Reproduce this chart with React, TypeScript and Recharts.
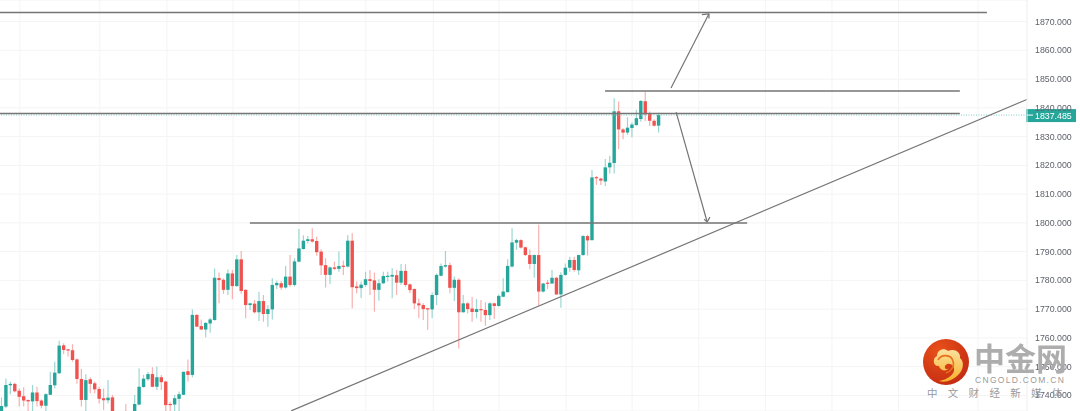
import React from "react";
import { ComposedChart, Bar, XAxis, YAxis, CartesianGrid, ReferenceLine } from "recharts";

const opens = [
  1733, 1736.1, 1743.5, 1744, 1741.6, 1739.7, 1738.4, 1737.9, 1741, 1738.2,
  1736.4, 1740.2, 1743.5, 1747.7, 1757.4, 1756, 1755.7, 1752.5, 1745.7, 1738.4,
  1745.6, 1744.2, 1742.2, 1739, 1738.3, 1739.3, 1733, 1731, 1733, 1731,
  1732, 1736.8, 1742.9, 1745.6, 1747.4, 1743, 1746.3, 1744.8, 1737, 1736.8,
  1738.8, 1740.2, 1748.4, 1747.1, 1768, 1764.1, 1762.9, 1765, 1766.2, 1780.8,
  1780.2, 1776.7, 1782.4, 1778, 1787.3, 1776.7, 1771.4, 1771.9, 1768.9, 1772.8,
  1768.3, 1769.9, 1778.3, 1779, 1777.5, 1781.3, 1778.4, 1786.5, 1790.9, 1793.7,
  1794.3, 1793.7, 1790, 1785.3, 1781.9, 1784.5, 1784, 1785.1, 1784.8, 1793.8,
  1777.9, 1777.3, 1778.4, 1780.4, 1780, 1776.7, 1779, 1781.3, 1781.3, 1781.8,
  1779.2, 1783.3, 1778.6, 1777, 1772, 1771.4, 1770.3, 1769.9, 1774.9, 1781.6,
  1784.8, 1785.3, 1777.4, 1780.2, 1768.9, 1772, 1770.2, 1769, 1770, 1769.7,
  1767.9, 1772, 1771.1, 1774.3, 1775.9, 1784.8, 1793.1, 1794, 1791.5, 1788.8,
  1785.7, 1788.8, 1776.1, 1779.2, 1778.9, 1780.9, 1775.1, 1781.9, 1784.4, 1787.1,
  1783.5, 1788.8, 1795.4, 1794, 1815.9, 1815.4, 1814.4, 1819.3, 1820.8, 1838.8,
  1832.5, 1831.4, 1833, 1834, 1836.1, 1842.3, 1837.9, 1835.5, 1833.8,
];
const closes = [
  1736.3, 1743.6, 1744, 1741.4, 1739.5, 1738.2, 1737.9, 1741, 1738, 1736.4,
  1740.4, 1743.6, 1747.9, 1757.3, 1755.8, 1755.7, 1752.3, 1745.7, 1738.4, 1745.3,
  1744, 1742.1, 1738.8, 1738.3, 1739.2, 1733, 1731, 1733, 1731, 1733.5,
  1737, 1743, 1745.8, 1747.4, 1743, 1746.3, 1744.6, 1736.6, 1736.6, 1739,
  1740.4, 1748.2, 1747.1, 1768, 1763.9, 1762.9, 1765.2, 1766.4, 1780.9, 1780.1,
  1776.7, 1782.4, 1778, 1787.3, 1776.3, 1771.4, 1772, 1768.9, 1772.8, 1768.3,
  1770, 1778.4, 1779.1, 1777.5, 1781.3, 1778.4, 1786.6, 1791.1, 1793.8, 1794.3,
  1793.5, 1789.8, 1785.2, 1781.9, 1784.5, 1784, 1785, 1784.7, 1793.8, 1777.6,
  1777.3, 1778.5, 1780.4, 1779.8, 1776.7, 1779, 1781.5, 1781.6, 1781.9, 1779.2,
  1783.3, 1778.4, 1776.6, 1772, 1771.3, 1770, 1769.9, 1774.9, 1781.9, 1785,
  1785.3, 1777.4, 1780.2, 1768.9, 1772, 1770, 1769, 1770, 1769.6, 1767.9,
  1772, 1771.1, 1774.6, 1776.1, 1785, 1793.2, 1794, 1791.4, 1788.8, 1785.7,
  1788.8, 1776.1, 1778.9, 1778.8, 1780.9, 1775.1, 1781.9, 1784.4, 1787.1, 1783.6,
  1788.8, 1795.4, 1793.9, 1815.8, 1815.5, 1814.7, 1819.3, 1820.9, 1838.8, 1832.5,
  1831.4, 1833.1, 1834.2, 1836.4, 1842.4, 1837.7, 1835.5, 1833.8, 1837.5,
];
const highs = [
  1739.3, 1745.9, 1744.8, 1744.4, 1742.4, 1742.8, 1738.6, 1743.6, 1743, 1738.6,
  1740.7, 1748.1, 1751.7, 1759, 1758.1, 1756.2, 1757.8, 1752.8, 1749.2, 1747.3,
  1746.3, 1744.8, 1743, 1742.4, 1745.3, 1740.1, 1733.5, 1734, 1737, 1734,
  1740.1, 1749.4, 1747.1, 1748.2, 1749.8, 1750, 1747.1, 1745.1, 1737.8, 1740.1,
  1741.3, 1748.2, 1752.5, 1769.9, 1768.2, 1766.4, 1765.4, 1767, 1784.1, 1782.7,
  1780.7, 1783.8, 1783.6, 1788.8, 1790.2, 1776.9, 1772.2, 1773.2, 1776, 1774.9,
  1771.4, 1780.7, 1779.9, 1779.8, 1785, 1788.8, 1787.7, 1797.9, 1795.7, 1795.4,
  1798.1, 1795.2, 1790.8, 1787.7, 1784.8, 1786.5, 1790, 1786.9, 1795.8, 1796.4,
  1779.6, 1779.6, 1783, 1783.6, 1782.7, 1780.4, 1783, 1783, 1784.2, 1783.6,
  1785.7, 1785.6, 1778.9, 1777.2, 1773.7, 1772, 1770.5, 1775.8, 1782.4, 1785.9,
  1790.2, 1786.1, 1781.3, 1780.7, 1774.9, 1772.4, 1774.3, 1773.5, 1773.2, 1772.4,
  1772.4, 1772.2, 1775.1, 1780.7, 1787.3, 1798.1, 1794.4, 1794.3, 1791.7, 1790.8,
  1789, 1799.3, 1779.2, 1780.1, 1783.6, 1781.2, 1782.8, 1785.9, 1788.2, 1788.2,
  1789, 1795.8, 1795.8, 1818.4, 1816.3, 1815.7, 1822.2, 1823.3, 1843.3, 1842.2,
  1832.9, 1836.7, 1834.9, 1839.3, 1842.7, 1845.6, 1838.7, 1836, 1838.3,
];
const lows = [
  1730, 1735.5, 1740.4, 1741, 1736.1, 1736.1, 1733, 1733, 1736.1, 1735.5,
  1733, 1740.1, 1742.4, 1747.4, 1754.4, 1753.5, 1751.7, 1744, 1736.1, 1733,
  1740.7, 1740.7, 1737.2, 1734.9, 1737.2, 1730, 1729, 1730, 1729, 1729.5,
  1731, 1736.6, 1742.7, 1745.1, 1742.8, 1741.9, 1741.9, 1733, 1733, 1733,
  1733, 1740.1, 1744.8, 1746.3, 1763.7, 1762.7, 1760.2, 1761.8, 1766, 1772,
  1775.3, 1774.9, 1773.4, 1777.8, 1775.3, 1766.8, 1769.7, 1768.5, 1765.9, 1765.6,
  1763.9, 1766.4, 1777, 1776.7, 1777.2, 1777.8, 1777.8, 1786.3, 1790.7, 1792.9,
  1793.1, 1788.6, 1781.9, 1777.5, 1778.7, 1783.6, 1783, 1781.9, 1784.5, 1770.3,
  1775.5, 1773.9, 1777.8, 1774.9, 1769.1, 1772.9, 1778.7, 1779.6, 1773.8, 1774.9,
  1778.4, 1777.8, 1775.5, 1770, 1766.8, 1766.2, 1762.7, 1766.8, 1771.4, 1781.3,
  1784.4, 1775.5, 1772.8, 1756.3, 1768.8, 1768.5, 1765.6, 1766.8, 1765.6, 1764.2,
  1766.2, 1766.6, 1770.8, 1774.1, 1775.8, 1784.5, 1790.6, 1791.1, 1788.5, 1783.9,
  1780.9, 1771.2, 1775.8, 1777, 1778.7, 1774.9, 1770.5, 1781.6, 1783, 1783,
  1781.9, 1788.6, 1788.6, 1793.8, 1813.2, 1813.2, 1812.8, 1817.2, 1817.2, 1825.6,
  1829.1, 1830.6, 1829.8, 1833.8, 1835.2, 1835.4, 1833.7, 1833.5, 1831.4,
];

const priceTicks = [1870, 1860, 1850, 1840, 1830, 1820, 1810, 1800, 1790, 1780, 1770, 1760, 1750, 1740];
const timeGridLines = [4.1, 22.1, 37.2, 52.1, 67, 82, 97.2, 112, 127.1, 142, 157, 172, 187, 202, 219.9];
const lastPrice = 1837.485;

// horizontal levels: [x1, price1, x2, price2]
const levelLines = [
  [-0.38, 1873.2, 221.9, 1873.2],
  [135.9, 1845.9, 215.8, 1845.9],
  [-0.38, 1838, 215.8, 1838],
  [55.9, 1799.95, 167.9, 1799.95],
];
// trend line and the two arrows
const slantLines = [
  [65.2, 1734.6, 230.9, 1842.9],
  [150.75, 1846.9, 159.3, 1872.7],
  [159.3, 1872.7, 157.7, 1872.4],
  [159.3, 1872.7, 159.3, 1871.1],
  [151.9, 1838.5, 158.9, 1800.3],
  [158.9, 1800.3, 158.2, 1801.3],
  [158.9, 1800.3, 159.5, 1802],
];

const candles = opens.map((o, i) => ({
  idx: i,
  open: o,
  close: closes[i],
  range: [lows[i], highs[i]],
}));

const UP = "#26a69a";
const DOWN = "#ef5350";

const Candle = (props: any) => {
  const { x, y, width, height, payload } = props;
  const [low, high] = payload.range;
  const k = height / (high - low);
  const color = payload.close >= payload.open ? UP : DOWN;
  const cx = x + width / 2;
  const top = y + (high - Math.max(payload.open, payload.close)) * k;
  const bodyH = Math.max(Math.abs(payload.close - payload.open) * k, 1.2);
  return (
    <g>
      <line x1={cx} x2={cx} y1={y} y2={y + height} stroke={color} strokeOpacity={0.45} strokeWidth={1.2} />
      <rect x={cx - 1.7} y={top} width={3.4} height={bodyH} fill={color} />
    </g>
  );
};

const PriceTag = (props: any) => {
  const { viewBox } = props;
  const right = viewBox.x + viewBox.width;
  return (
    <g>
      <rect x={right - 1} y={viewBox.y - 6} width={50} height={13} fill={UP} />
      <line x1={right} x2={right + 6} y1={viewBox.y} y2={viewBox.y} stroke="#fff" />
      <text x={right + 8} y={viewBox.y + 3.5} fontSize={8.8} fill="#fff" fontFamily="Liberation Sans">
        {lastPrice.toFixed(3)}
      </text>
    </g>
  );
};

const Watermark = () => (
  <svg width={1080} height={411} style={{ position: "absolute", left: 0, top: 0 }}>
    <defs>
      <radialGradient id="logoFill" cx="35%" cy="25%" r="85%">
        <stop offset="0%" stopColor="#e8501a" />
        <stop offset="100%" stopColor="#c22a12" />
      </radialGradient>
      <linearGradient id="swirlFill" x1="0" y1="0" x2="0" y2="1">
        <stop offset="0%" stopColor="#fbe2a0" />
        <stop offset="100%" stopColor="#f7b02a" />
      </linearGradient>
    </defs>
    <circle cx={946} cy={362} r={23} fill="url(#logoFill)" />
    <path
      d="M939 381 C950 379 957 372 953 366 C950 362 944 364 945 368 C946 370 949 369 949 368 C947 372 940 371 939 366 C933 367 932 358 937 356 C937 350 944 347 948 351 C954 348 961 352 960 358 C965 362 963 371 958 375 C953 380 946 383 939 381 Z"
      fill="url(#swirlFill)"
    />
    <path d="M938 360 C941 354 951 354 953 361 C955 367 950 372 946 373" fill="none" stroke="#e8701c" strokeWidth={1.6} />
    <text x={974} y={370} fontSize={31} fontWeight="bold" fill="#a9a9a9" fontFamily="Noto Sans CJK SC" opacity={0.95} textLength={93}>
      中金网
    </text>
    <text x={975} y={383} fontSize={8.5} fill="#9a9a9a" fontFamily="Liberation Sans" letterSpacing={1.3}>
      CNGOLD.COM.CN
    </text>
    <text x={927} y={397} fontSize={10.5} fill="#9a9a9a" fontFamily="Noto Sans CJK SC" letterSpacing={10.3}>
      中文财经新媒体
    </text>
  </svg>
);

export default function App() {
  return (
    <div style={{ position: "absolute", left: 0, top: 0, width: 1080, height: 411, background: "#fff", overflow: "hidden" }}>
      <div style={{ filter: "blur(0.5px)" }}>
        <ComposedChart width={1080} height={411} data={candles} margin={{ top: 0, right: 0, bottom: 0, left: 0 }}>
          <CartesianGrid stroke="#f4f4f4" verticalValues={timeGridLines} />
          <XAxis dataKey="idx" type="number" domain={[-0.38, 230.93]} allowDataOverflow hide />
          <YAxis
            orientation="right"
            width={53}
            domain={[1734.56, 1877.51]}
            allowDataOverflow
            ticks={priceTicks}
            tickFormatter={(v: number) => v.toFixed(3)}
            tick={{ fontSize: 8.8, fill: "#5f626c", fontFamily: "Liberation Sans" }}
            tickSize={0}
            tickMargin={8}
            axisLine={{ stroke: "#eeeeee" }}
          />
          <Bar dataKey="range" barSize={4} shape={Candle} isAnimationActive={false} />
          <ReferenceLine y={lastPrice} stroke="#7fcdc5" strokeDasharray="1 1.5" strokeWidth={1} label={<PriceTag />} ifOverflow="visible" />
          {levelLines.map(([x1, y1, x2, y2], i) => (
            <ReferenceLine
              key={"level" + i}
              segment={[{ x: x1, y: y1 }, { x: x2, y: y2 }]}
              stroke="#757575"
              strokeWidth={1.5}
              ifOverflow="visible"
            />
          ))}
          {slantLines.map(([x1, y1, x2, y2], i) => (
            <ReferenceLine
              key={"slant" + i}
              segment={[{ x: x1, y: y1 }, { x: x2, y: y2 }]}
              stroke="#757575"
              strokeWidth={1.2}
              ifOverflow="visible"
            />
          ))}
        </ComposedChart>
      </div>
      <Watermark />
    </div>
  );
}
